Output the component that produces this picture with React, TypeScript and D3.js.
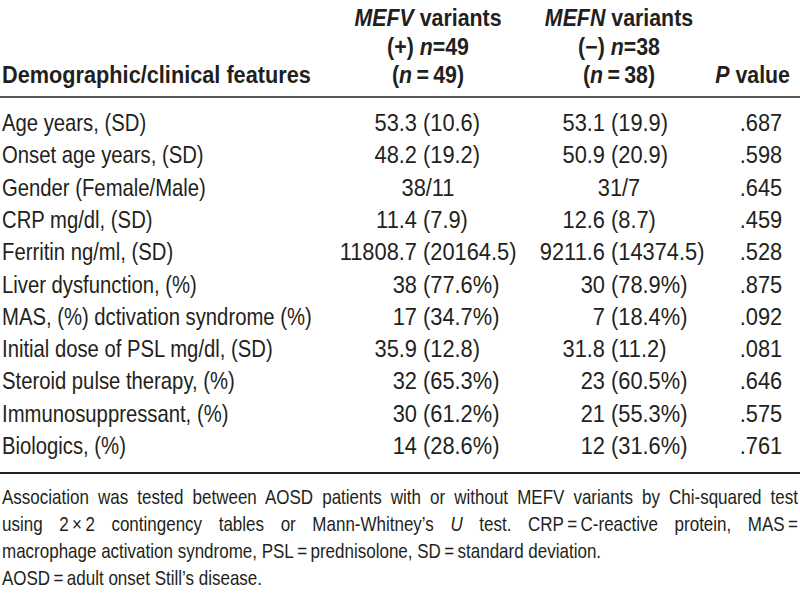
import React, { useLayoutEffect, useRef } from 'react';
import * as d3 from 'd3';

// ---------- data ----------
const features = [
  'Age years, (SD)',
  'Onset age years, (SD)',
  'Gender (Female/Male)',
  'CRP mg/dl, (SD)',
  'Ferritin ng/ml, (SD)',
  'Liver dysfunction, (%)',
  'MAS, (%) dctivation syndrome (%)',
  'Initial dose of PSL mg/dl, (SD)',
  'Steroid pulse therapy, (%)',
  'Immunosuppressant, (%)',
  'Biologics, (%)',
];
const mefvPositive = [
  '53.3 (10.6)',
  '48.2 (19.2)',
  '38/11',
  '11.4 (7.9)',
  '11808.7 (20164.5)',
  '38 (77.6%)',
  '17 (34.7%)',
  '35.9 (12.8)',
  '32 (65.3%)',
  '30 (61.2%)',
  '14 (28.6%)',
];
const mefnNegative = [
  '53.1 (19.9)',
  '50.9 (20.9)',
  '31/7',
  '12.6 (8.7)',
  '9211.6 (14374.5)',
  '30 (78.9%)',
  '7 (18.4%)',
  '31.8 (11.2)',
  '23 (60.5%)',
  '21 (55.3%)',
  '12 (31.6%)',
];
const pValues = ['.687', '.598', '.645', '.459', '.528', '.875', '.092', '.081', '.646', '.575', '.761'];

type Seg = { t: string; i?: boolean };
const headerMefv: Seg[][] = [
  [{ t: 'MEFV', i: true }, { t: ' variants' }],
  [{ t: '(+)  ' }, { t: 'n', i: true }, { t: '=49' }],
  [{ t: '(' }, { t: 'n', i: true }, { t: '\u2009=\u200949)' }],
];
const headerMefn: Seg[][] = [
  [{ t: 'MEFN', i: true }, { t: ' variants' }],
  [{ t: '(\u2212)  ' }, { t: 'n', i: true }, { t: '=38' }],
  [{ t: '(' }, { t: 'n', i: true }, { t: '\u2009=\u200938)' }],
];
const headerFeature = 'Demographic/clinical features';
const headerP: Seg[] = [{ t: 'P', i: true }, { t: ' value' }];

const footnotes: { segs: Seg[]; justify: boolean }[] = [
  { segs: [{ t: 'Association was tested between AOSD patients with or without MEFV variants by Chi-squared test' }], justify: true },
  {
    segs: [
      { t: 'using 2\u2009\u00d7\u20092 contingency tables or Mann-Whitney\u2019s ' },
      { t: 'U', i: true },
      { t: ' test. CRP\u2009=\u2009C-reactive protein, MAS\u2009=' },
    ],
    justify: true,
  },
  { segs: [{ t: 'macrophage activation syndrome, PSL\u2009=\u2009prednisolone, SD\u2009=\u2009standard deviation.' }], justify: false },
  { segs: [{ t: 'AOSD\u2009=\u2009adult onset Still\u2019s disease.' }], justify: false },
];

// ---------- layout ----------
const W = 800;
const H = 595;
const FONT = '"Liberation Sans", Arial, Helvetica, sans-serif';
const INK = '#231f20';
const BODY = 24;
const NOTE = 20;
const LEFT = 2;
const RIGHT = 798;

// horizontal condensing (Helvetica Condensed look)
const SX_TEXT = 0.845;
const SX_NUM = 0.91;
const SX_BOLD = 0.89;
const SX_BOLD_FEATURE = 0.905;
const SX_NOTE = 0.85;

const col2Paren = 423;
const col3Paren = 611;
const parenGap = 6;
const col2Center = 428;
const col3Center = 619;
const pCenter = 761;
const pHeaderRight = 790;

const rowY = d3.scaleLinear().domain([0, features.length - 1]).range([131, 454]);
const headerY = d3.scaleLinear().domain([0, 2]).range([26, 83]);
const noteY = d3.scaleLinear().domain([0, footnotes.length - 1]).range([504, 585]);

function Segs({ segs }: { segs: Seg[] }) {
  return (
    <>
      {segs.map((s, k) => (
        <tspan key={k} fontStyle={s.i ? 'italic' : 'normal'}>
          {s.t}
        </tspan>
      ))}
    </>
  );
}

type Anchor = 'start' | 'middle' | 'end';
function SText({
  x,
  y,
  sx,
  anchor = 'start',
  children,
  tref,
}: {
  x: number;
  y: number;
  sx: number;
  anchor?: Anchor;
  children: React.ReactNode;
  tref?: (el: SVGTextElement | null) => void;
}) {
  return (
    <text ref={tref} transform={`translate(${x},${y}) scale(${sx},1)`} textAnchor={anchor}>
      {children}
    </text>
  );
}

function Cell({ value, paren, center, y }: { value: string; paren: number; center: number; y: number }) {
  const idx = value.indexOf(' (');
  if (idx < 0) {
    return (
      <SText x={center} y={y} sx={SX_NUM} anchor="middle">
        {value}
      </SText>
    );
  }
  return (
    <>
      <SText x={paren - parenGap} y={y} sx={SX_NUM} anchor="end">
        {value.slice(0, idx)}
      </SText>
      <SText x={paren} y={y} sx={SX_NUM}>
        {value.slice(idx + 1)}
      </SText>
    </>
  );
}

export default function App() {
  const noteRefs = useRef<(SVGTextElement | null)[]>([]);

  useLayoutEffect(() => {
    footnotes.forEach((f, k) => {
      const el = noteRefs.current[k];
      if (!el || !f.justify) return;
      el.style.wordSpacing = '0px';
      const natural = el.getComputedTextLength();
      const full = f.segs.map((s) => s.t).join('');
      const spaces = (full.match(/ /g) || []).length;
      const target = (RIGHT - LEFT) / SX_NOTE;
      if (spaces > 0) {
        el.style.wordSpacing = `${(target - natural) / spaces}px`;
      }
    });
  }, []);

  return (
    <svg
      width={W}
      height={H}
      viewBox={`0 0 ${W} ${H}`}
      style={{ position: 'absolute', left: 0, top: 0, background: '#fff' }}
      fontFamily={FONT}
      fill={INK}
    >
      <rect x={0} y={0} width={W} height={H} fill="#fff" />

      {/* header */}
      <g fontWeight="bold" fontSize={BODY}>
        {headerMefv.map((segs, k) => (
          <SText key={`hv${k}`} x={col2Center} y={headerY(k)} sx={SX_BOLD} anchor="middle">
            <Segs segs={segs} />
          </SText>
        ))}
        {headerMefn.map((segs, k) => (
          <SText key={`hn${k}`} x={col3Center} y={headerY(k)} sx={SX_BOLD} anchor="middle">
            <Segs segs={segs} />
          </SText>
        ))}
        <SText x={LEFT} y={headerY(2)} sx={SX_BOLD_FEATURE}>
          {headerFeature}
        </SText>
        <SText x={pHeaderRight} y={headerY(2)} sx={SX_BOLD} anchor="end">
          <Segs segs={headerP} />
        </SText>
      </g>

      <line x1={0} x2={W} y1={97} y2={97} stroke={INK} strokeWidth={1.6} />

      {/* body */}
      <g fontSize={BODY}>
        {features.map((f, k) => (
          <g key={k}>
            <SText x={LEFT} y={rowY(k)} sx={SX_TEXT}>
              {f}
            </SText>
            <Cell value={mefvPositive[k]} paren={col2Paren} center={col2Center} y={rowY(k)} />
            <Cell value={mefnNegative[k]} paren={col3Paren} center={col3Center} y={rowY(k)} />
            <SText x={pCenter} y={rowY(k)} sx={SX_NUM} anchor="middle">
              {pValues[k]}
            </SText>
          </g>
        ))}
      </g>

      <line x1={0} x2={W} y1={473} y2={473} stroke={INK} strokeWidth={2} />

      {/* footnotes */}
      <g fontSize={NOTE}>
        {footnotes.map((f, k) => (
          <SText
            key={k}
            tref={(el) => {
              noteRefs.current[k] = el;
            }}
            x={LEFT}
            y={noteY(k)}
            sx={SX_NOTE}
          >
            <Segs segs={f.segs} />
          </SText>
        ))}
      </g>
    </svg>
  );
}
